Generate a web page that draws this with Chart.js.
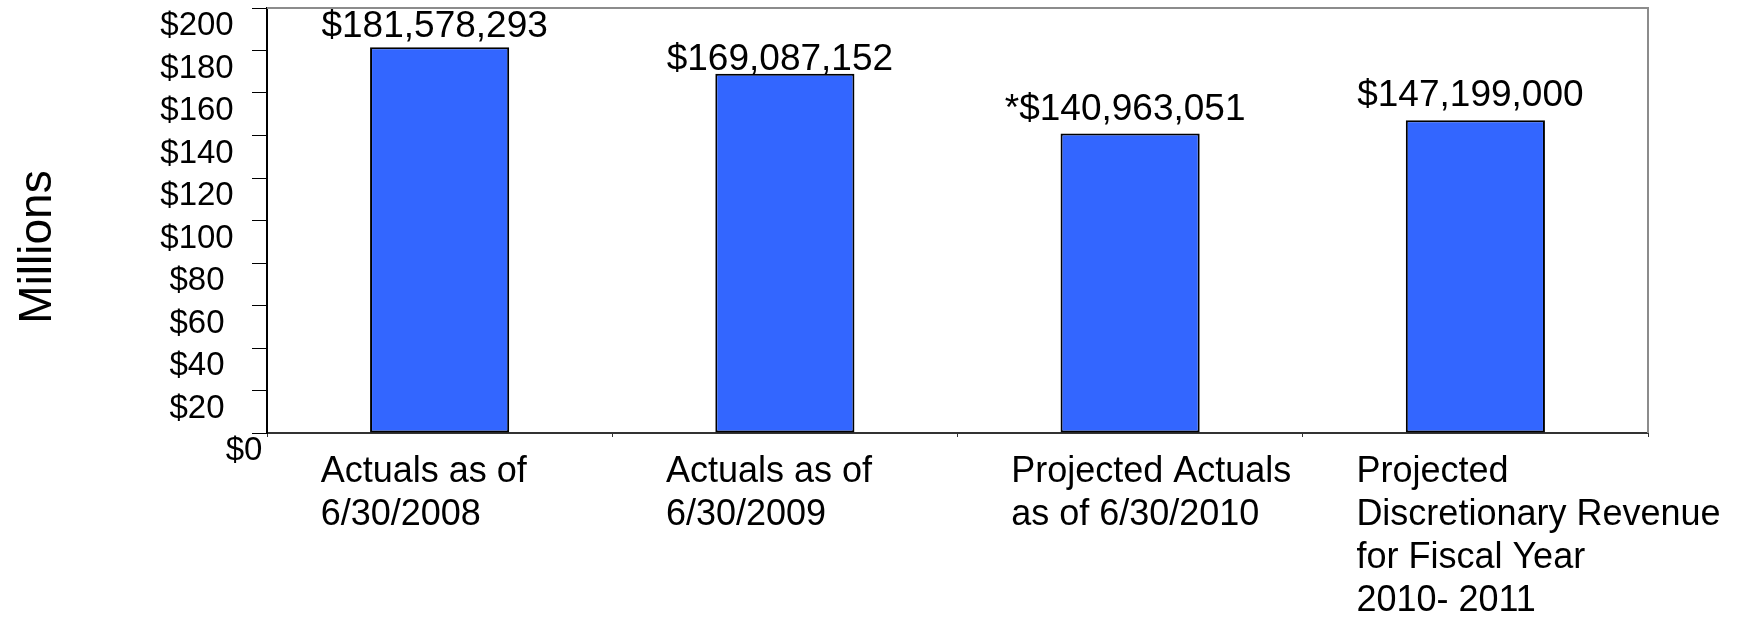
<!DOCTYPE html>
<html>
    <head>
        <title>Discretionary Revenue</title>
        <meta charset="utf-8">
        <script src="https://cdn.jsdelivr.net/npm/chart.js"></script>
        <style>
            body { margin: 0; background: #fff; }
        </style>
    </head>
    <body>
        <canvas id="RevenueChart" width="1752" height="617"></canvas>

        <script>
         // revenue per period, in dollars
         const categories = [
            ['Actuals as of', '6/30/2008'],
            ['Actuals as of', '6/30/2009'],
            ['Projected Actuals', 'as of 6/30/2010'],
            ['Projected', 'Discretionary Revenue', 'for Fiscal Year', '2010- 2011']
         ];
         const revenue = [181578293, 169087152, 140963051, 147199000];
         const notes = ['', '', '*', ''];
         const yMin = 0, yMax = 200, yStep = 20;
         const yTitle = 'Millions';

         const FONT = '"Liberation Sans", Arial, sans-serif';

         // grey frame, y tick labels, axis title and bar value labels
         const extras = {
            id: 'extras',
            afterDraw(chart) {
               const ctx = chart.ctx;
               const a = chart.chartArea;
               const y = chart.scales.y;
               ctx.save();

               ctx.strokeStyle = '#8c8c8c';
               ctx.lineWidth = 2;
               ctx.beginPath();
               ctx.moveTo(a.left, a.top);
               ctx.lineTo(a.right, a.top);
               ctx.lineTo(a.right, a.bottom);
               ctx.stroke();

               ctx.fillStyle = '#000';
               ctx.textAlign = 'center';
               ctx.textBaseline = 'middle';
               ctx.font = '33px ' + FONT;
               y.ticks.forEach(t => {
                  const py = y.getPixelForValue(t.value);
                  const px = t.value === 0 ? a.left - 23 : a.left - 70;
                  ctx.fillText('$' + t.value, px, py + 18);
               });

               ctx.save();
               ctx.translate(38, 247);
               ctx.rotate(-Math.PI / 2);
               ctx.font = '46px ' + FONT;
               ctx.fillText(yTitle, 0, 0);
               ctx.restore();

               const gaps = [10, 4, 13, 14];
               ctx.font = '37px ' + FONT;
               ctx.textBaseline = 'alphabetic';
               chart.getDatasetMeta(0).data.forEach((bar, i) => {
                  const text = notes[i] + '$' + revenue[i].toLocaleString('en-US');
                  ctx.fillText(text, bar.x - 5, bar.y - gaps[i]);
               });
               ctx.restore();
            }
         };

         const chart = {
            type: 'bar',
            data: {
               labels: categories,
               datasets: [{
                  data: revenue.map(v => v / 1e6),
                  backgroundColor: '#3366ff',
                  borderColor: '#000',
                  borderWidth: 2,
                  borderSkipped: false,
                  barPercentage: 0.403,
                  categoryPercentage: 1
               }]
            },
            options: {
               responsive: false,
               animation: false,
               layout: { padding: { top: 8, right: 104, left: 0, bottom: 0 } },
               plugins: {
                  legend: { display: false },
                  tooltip: { enabled: false }
               },
               scales: {
                  x: {
                     afterFit: s => {
                        s.height = 184;
                        s.paddingLeft = 0;
                        s.paddingRight = 0;
                     },
                     border: { color: '#333', width: 2 },
                     grid: { offset: true, drawOnChartArea: false, tickLength: 4, color: '#333' },
                     ticks: {
                        align: 'start',
                        labelOffset: -119,
                        padding: 13,
                        maxRotation: 0,
                        autoSkip: false,
                        color: '#000',
                        font: { family: FONT, size: 36, lineHeight: 1.2 }
                     }
                  },
                  y: {
                     min: yMin,
                     max: yMax,
                     afterFit: s => {
                        s.width = 267;
                        s.paddingTop = 0;
                        s.paddingBottom = 0;
                     },
                     border: { color: '#000', width: 2 },
                     grid: { drawOnChartArea: false, tickLength: 15, color: '#000' },
                     ticks: { stepSize: yStep, display: false }
                  }
               }
            },
            plugins: [extras]
         };

         new Chart(document.getElementById('RevenueChart').getContext('2d'), chart);
        </script>
    </body>
</html>
